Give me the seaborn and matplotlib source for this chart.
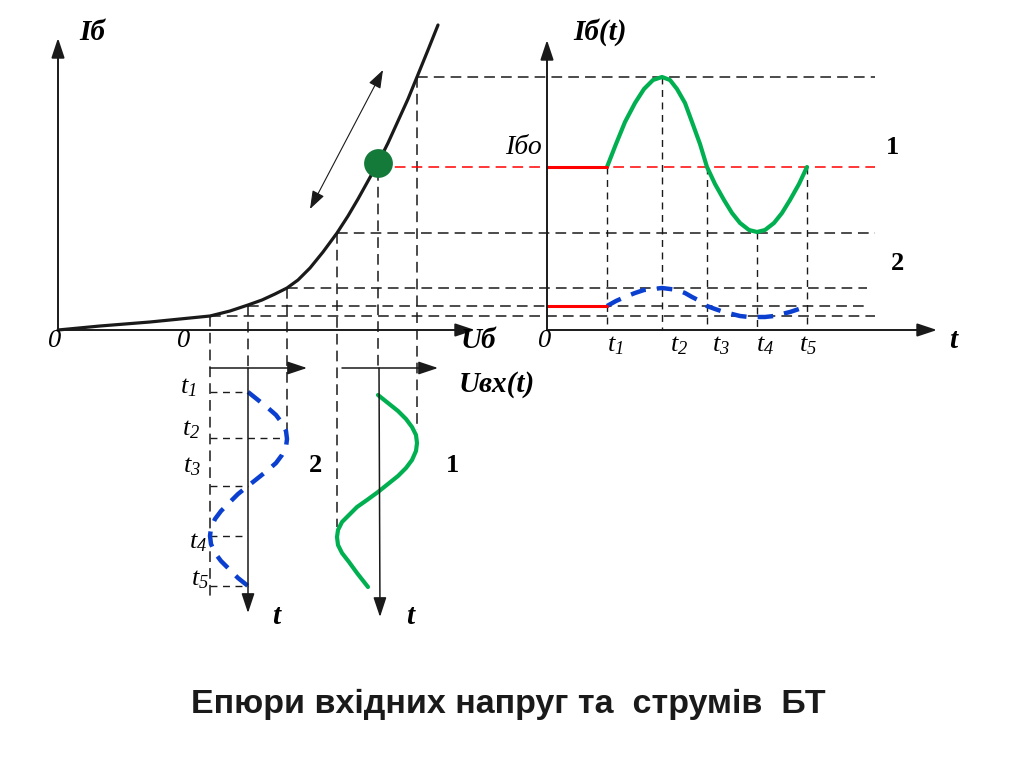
import matplotlib

matplotlib.use('Agg')
import matplotlib.pyplot as plt
import seaborn as sns

sns.set_theme(style='white')
plt.rcParams['font.family'] = ['Liberation Serif', 'DejaVu Serif']
plt.rcParams['text.color'] = 'black'
plt.rcParams['mathtext.fontset'] = 'custom'
plt.rcParams['mathtext.it'] = 'Liberation Serif:italic'
plt.rcParams['mathtext.rm'] = 'Liberation Serif:italic'

# everything is in the pixel grid of the original drawing (y grows downwards)
# input characteristic Iб(Uб)
char_x = [58, 100, 150, 190, 210, 230, 248, 262, 275, 287, 298, 310, 323, 337,
          348, 358, 368, 378, 388, 398, 408, 417, 428, 438]
char_y = [330, 326, 322, 318, 316, 311, 305, 300, 294, 288, 280, 268, 252, 233,
          216, 199, 181, 163, 143, 121, 99, 77, 50, 25]
q_x, q_y = 378, 163

# input voltage Uвх(t), drawn downwards in time
u2_x = [248, 258, 268, 276, 282, 286, 287, 286, 282, 276, 268, 258, 248,
        238, 229, 221, 215, 211, 210, 211, 215, 221, 229, 238, 248]
u2_t = [392, 400, 408, 415, 423, 431, 439, 447, 455, 463, 470, 478, 486,
        494, 503, 511, 519, 528, 536, 544, 553, 561, 569, 578, 586]
u1_x = [378, 388, 398, 406, 412, 416, 417, 416, 412, 406, 398, 388, 378,
        367, 357, 349, 342, 338, 337, 338, 342, 349, 357, 368]
u1_t = [395, 403, 411, 419, 427, 435, 443, 451, 460, 468, 476, 484, 492,
        500, 507, 515, 522, 530, 537, 545, 553, 562, 573, 587]

# base current Iб(t)
i_t = [607, 616, 625, 635, 644, 653, 662, 670, 677, 685, 692, 700, 707,
       715, 724, 732, 740, 749, 757, 765, 774, 782, 790, 799, 807]
i1 = [167, 144, 122, 103, 89, 80, 77, 80, 89, 103, 122, 144, 167,
      184, 200, 213, 223, 230, 232, 230, 223, 213, 200, 184, 167]
i2 = [306, 301, 297, 293, 290, 289, 288, 289, 290, 293, 297, 301, 306,
      309, 312, 314, 316, 317, 317, 317, 316, 314, 312, 309, 306]

# projection lines
h_y = [77, 233, 288, 306, 316]
h_x0 = [417, 337, 287, 248, 210]
h_x1 = [875, 875, 867, 867, 875]
v_x = [210, 248, 287, 337, 378, 417]
v_y0 = [316, 305, 288, 233, 170, 77]
v_y1 = [600, 368, 438, 527, 368, 430]
tm_x = [607, 662, 707, 757, 807]
tm_y = [167, 77, 167, 232, 167]
tl_y = [392, 438, 486, 536, 586]
tl_x1 = [248, 287, 248, 243, 248]

GREEN = '#00b050'
BLUE = '#0a3fd0'
RED = '#ff0000'

fig = plt.figure(figsize=(10.24, 7.67), dpi=100)
ax = fig.add_axes([0, 0, 1, 1])
ax.set_xlim(0, 1024)
ax.set_ylim(767, 0)
ax.axis('off')


def arrow(x0, y0, x1, y1, lw=1.4, head='-|>,head_length=0.6,head_width=0.2', ms=20):
    ax.annotate('', xy=(x1, y1), xytext=(x0, y0),
                arrowprops=dict(arrowstyle=head, color='k', lw=lw, mutation_scale=ms,
                                shrinkA=0, shrinkB=0))


dash = dict(color='k', lw=1.1, dashes=(7, 4))

# dashed projections
for y, x0, x1 in zip(h_y, h_x0, h_x1):
    ax.plot([x0, x1], [y, y], **dash)
for x, y0, y1 in zip(v_x, v_y0, v_y1):
    ax.plot([x, x], [y0, y1], **dash)
for x, y in zip(tm_x, tm_y):
    ax.plot([x, x], [y, 330], color='k', lw=1.0, dashes=(5, 4))
for y, x1 in zip(tl_y, tl_x1):
    ax.plot([210, x1], [y, y], color='k', lw=1.0, dashes=(5, 4))
ax.plot([q_x, 875], [167, 167], color=RED, lw=1.1, dashes=(7, 4))

# axes
arrow(58, 330, 58, 38)
arrow(58, 330, 475, 330)
arrow(547, 330, 547, 40)
arrow(547, 330, 937, 330)
arrow(210, 368, 307, 368, lw=1.1)
arrow(342, 368, 438, 368, lw=1.1)
arrow(248, 368, 248, 613, lw=1.1)
arrow(379, 368, 380, 617, lw=1.1)
arrow(310, 209, 383, 70, lw=0.8, head='<|-|>,head_length=0.7,head_width=0.25', ms=16)

# curves
sns.lineplot(x=char_x, y=char_y, sort=False, estimator=None, ax=ax, color='k', lw=2.3)
sns.lineplot(x=u1_x, y=u1_t, sort=False, estimator=None, ax=ax, color=GREEN, lw=3.0)
sns.lineplot(x=i_t, y=i1, sort=False, estimator=None, ax=ax, color=GREEN, lw=3.0)
sns.lineplot(x=u2_x, y=u2_t, sort=False, estimator=None, ax=ax, color=BLUE, lw=3.2)
ax.lines[-1].set_dashes((3.5, 2.5))
sns.lineplot(x=i_t, y=i2, sort=False, estimator=None, ax=ax, color=BLUE, lw=3.2)
ax.lines[-1].set_dashes((3.5, 2.5))
ax.plot([547, 607], [167, 167], color=RED, lw=2.2)
ax.plot([547, 607], [306, 306], color=RED, lw=2.2)
ax.scatter([q_x], [q_y], s=430, color='#137a3a', zorder=5, linewidths=0)

# labels
bi = dict(fontsize=21, fontweight='bold', fontstyle='italic', ha='center', va='center')
it = dict(fontsize=19, fontstyle='italic', ha='center', va='center')
bd = dict(fontsize=19, fontweight='bold', ha='center', va='center')
ax.text(92, 32, 'Iб', **bi)
ax.text(600, 32, 'Iб(t)', **bi)
ax.text(478, 340, 'Uб', **bi)
ax.text(497, 384, 'Uвх(t)', **bi)
ax.text(953, 340, 't', **bi)
ax.text(276, 617, 't', **bi)
ax.text(410, 617, 't', **bi)
ax.text(55, 341, '0', **it)
ax.text(184, 341, '0', **it)
ax.text(545, 341, '0', **it)
ax.text(523, 147, 'Iбо', fontsize=20, fontstyle='italic', ha='center', va='center')
for x, k in zip([615, 679, 721, 765, 808], range(1, 6)):
    ax.text(x, 346, f'$t_{k}$', **it)
for x, y, k in zip([188, 191, 192, 198, 200], [388, 430, 467, 543, 580], range(1, 6)):
    ax.text(x, y, f'$t_{k}$', **it)
ax.text(893, 147, '1', **bd)
ax.text(898, 264, '2', **bd)
ax.text(315, 465, '2', **bd)
ax.text(453, 466, '1', **bd)

ax.text(508, 704, 'Епюри вхідних напруг та  струмів  БТ', family='Liberation Sans',
        fontsize=24.5, fontweight='bold', ha='center', va='center', color='k')

fig.savefig('out.png', dpi=100)
